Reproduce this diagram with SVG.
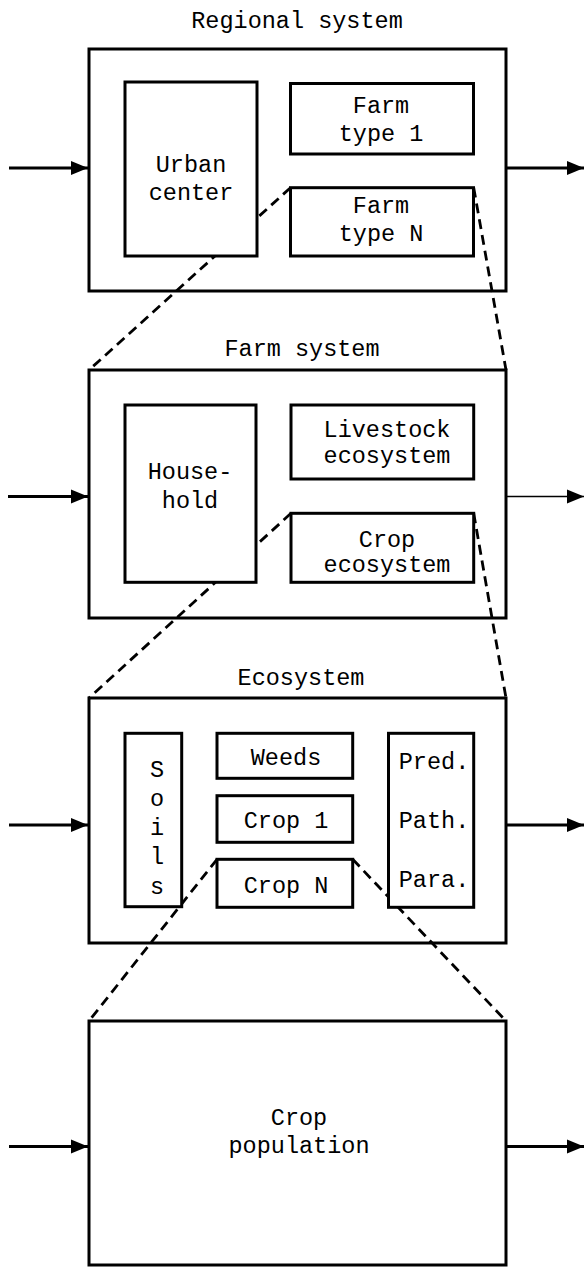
<svg xmlns="http://www.w3.org/2000/svg" width="584" height="1267" viewBox="0 0 584 1267">
<style>
.frame{fill:#fff;stroke:#000;stroke-width:3}
.box{fill:#fff;stroke:#000;stroke-width:3}
.t{font-family:"Liberation Mono","Courier New",monospace;font-size:23.5px;fill:#000;text-anchor:middle}
.dash{fill:none;stroke:#000;stroke-width:2.8;stroke-dasharray:10 6}
.arr{fill:none;stroke:#000;stroke-width:3}
.arrthin{fill:none;stroke:#000;stroke-width:1.6}
</style>
<defs>
<marker id="ah" markerUnits="userSpaceOnUse" markerWidth="18" markerHeight="16" refX="17" refY="8" orient="auto">
<path d="M0,1 L17,8 L0,15 Z" fill="#000"/>
</marker>
</defs>
<rect width="584" height="1267" fill="#fff"/>
<g id="regional-system">
<rect class="frame" x="89" y="49" width="417" height="242"/>
<text class="t" x="297" y="28">Regional system</text>
</g>
<g id="farm-system">
<rect class="frame" x="89" y="370" width="417" height="248"/>
<text class="t" x="302" y="356">Farm system</text>
</g>
<g id="ecosystem">
<rect class="frame" x="89" y="698" width="417" height="245"/>
<text class="t" x="301" y="685">Ecosystem</text>
</g>
<g id="crop-population">
<rect class="frame" x="89" y="1021" width="417" height="244"/>
<text class="t" x="299" y="1125">Crop</text>
<text class="t" x="299" y="1153">population</text>
</g>
<g id="connectors">
<line class="dash" x1="290.5" y1="187.7" x2="89" y2="370"/>
<line class="dash" x1="473.7" y1="187.7" x2="506" y2="370"/>
<line class="dash" x1="291" y1="513.3" x2="89" y2="698"/>
<line class="dash" x1="473.7" y1="513.3" x2="506" y2="698"/>
<line class="dash" x1="217" y1="859.3" x2="89" y2="1021"/>
<line class="dash" x1="352.7" y1="859.3" x2="506" y2="1021"/>
<line class="arr" x1="9" y1="168" x2="88" y2="168" marker-end="url(#ah)"/>
<line class="arr" x1="506" y1="168" x2="584" y2="168" marker-end="url(#ah)"/>
<line class="arr" x1="8" y1="496.5" x2="88" y2="496.5" marker-end="url(#ah)"/>
<line class="arrthin" x1="506" y1="496.5" x2="584" y2="496.5" marker-end="url(#ah)"/>
<line class="arr" x1="9" y1="825" x2="88" y2="825" marker-end="url(#ah)"/>
<line class="arr" x1="506" y1="825" x2="584" y2="825" marker-end="url(#ah)"/>
<line class="arr" x1="9" y1="1146.5" x2="88" y2="1146.5" marker-end="url(#ah)"/>
<line class="arr" x1="506" y1="1146.5" x2="584" y2="1146.5" marker-end="url(#ah)"/>
</g>
<g id="urban-center">
<rect class="box" x="125" y="82" width="132" height="174"/>
<text class="t" x="191" y="172">Urban</text>
<text class="t" x="191" y="200">center</text>
</g>
<g id="farm-type-1">
<rect class="box" x="290.5" y="83.5" width="183" height="70.5"/>
<text class="t" x="381" y="113">Farm</text>
<text class="t" x="381" y="141">type 1</text>
</g>
<g id="farm-type-n">
<rect class="box" x="290.5" y="187.7" width="183" height="68.3"/>
<text class="t" x="381" y="213">Farm</text>
<text class="t" x="381" y="241">type N</text>
</g>
<g id="household">
<rect class="box" x="125" y="405" width="131" height="177.3"/>
<text class="t" x="190" y="479">House-</text>
<text class="t" x="190" y="508">hold</text>
</g>
<g id="livestock-ecosystem">
<rect class="box" x="291" y="405" width="182.7" height="74"/>
<text class="t" x="387" y="437">Livestock</text>
<text class="t" x="387" y="463">ecosystem</text>
</g>
<g id="crop-ecosystem">
<rect class="box" x="291" y="513.3" width="182.7" height="69"/>
<text class="t" x="387" y="547">Crop</text>
<text class="t" x="387" y="572">ecosystem</text>
</g>
<g id="soils">
<rect class="box" x="125" y="733.3" width="56.7" height="173.4"/>
<text class="t" x="157" y="777">S</text>
<text class="t" x="157" y="806">o</text>
<text class="t" x="157" y="835" fill="#888">i</text>
<text class="t" x="157" y="864">l</text>
<text class="t" x="157" y="894">s</text>
</g>
<g id="weeds">
<rect class="box" x="217" y="733.3" width="135.7" height="45"/>
<text class="t" x="286" y="765">Weeds</text>
</g>
<g id="crop-1">
<rect class="box" x="217" y="795.7" width="135.7" height="46.6"/>
<text class="t" x="286" y="828">Crop 1</text>
</g>
<g id="crop-n">
<rect class="box" x="217" y="859.3" width="135.7" height="48"/>
<text class="t" x="286" y="893">Crop N</text>
</g>
<g id="pred-path-para">
<rect class="box" x="388.5" y="733.3" width="85.2" height="174"/>
<text class="t" x="434" y="769">Pred.</text>
<text class="t" x="434" y="828">Path.</text>
<text class="t" x="434" y="887">Para.</text>
</g>
</svg>
